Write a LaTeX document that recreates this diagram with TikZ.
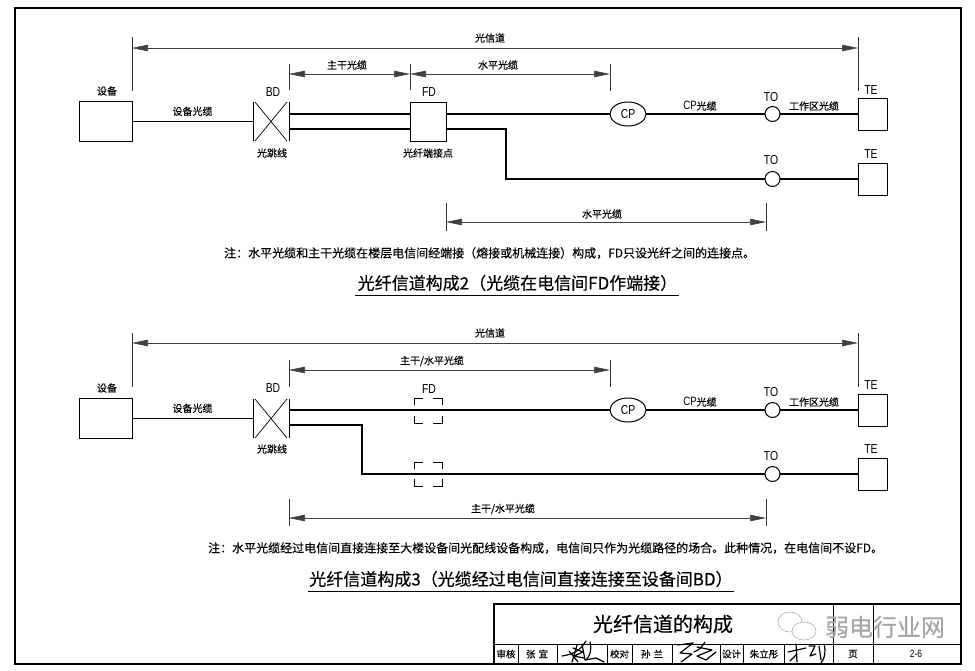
\documentclass[tikz,border=0pt]{standalone}
\usepackage{fontspec}
\setmainfont[FakeBold=0.3]{Noto Sans CJK SC}
\newfontfamily\latinfont[FakeStretch=0.8]{Liberation Sans}
\usetikzlibrary{shapes.geometric, arrows.meta, calc}

\begin{document}
\begin{tikzpicture}[
			x=1pt, y=-1pt,
			box/.style={rectangle, draw=black, line width=1pt, minimum width=36pt, minimum height=39pt, inner sep=0pt, outer sep=0pt},
			terminal/.style={box, minimum width=29pt, minimum height=32pt},
			jumper/.style={rectangle, minimum width=36pt, minimum height=39pt, inner sep=0pt, outer sep=0pt},
			cpnode/.style={ellipse, draw=black, line width=1pt, minimum width=36pt, minimum height=24pt, inner sep=0pt, outer sep=0pt, font=\latinfont\fontsize{13}{13}\selectfont},
			tonode/.style={circle, draw=black, line width=1pt, minimum size=15pt, inner sep=0pt, outer sep=0pt},
			caption/.style={font=\fontsize{10}{10}\selectfont, inner sep=0pt},
			tag/.style={font=\latinfont\fontsize{13}{13}\selectfont, inner sep=0pt},
			note/.style={font=\fontsize{12}{12}\selectfont, inner sep=0pt},
			heading/.style={font=\fontsize{17}{18}\selectfont, inner sep=0pt},
			cell/.style={font=\fontsize{9.5}{10}\selectfont, inner sep=0pt},
			cable/.style={line width=1.2pt},
			thin cable/.style={line width=1.1pt},
			rule/.style={line width=1pt},
			dim/.style={<->, >={Stealth[length=16pt, width=6.5pt, inset=0pt]}, line width=0.6pt, draw=black!75},
			tick/.style={line width=0.6pt, draw=black!80},
			scribble/.style={line width=1.2pt, line cap=round, line join=round}
			]
			\useasboundingbox (0,0) rectangle (975,670);
			
			% frame
			\draw[line width=1.3pt] (15,8) rectangle (961,664);
			
			% configuration 2
			\node[box, minimum width=53pt, minimum height=40pt] (dev1) at (105.5,121.5) {};
			\node[jumper] (bd1) at (271,121.5) {};
			\node[box] (fd1) at (428,121.5) {};
			\node[cpnode] (cp1) at (628,114) {CP};
			\node[tonode] (to1) at (772.5,114) {};
			\node[tonode] (to2) at (772.5,179) {};
			\node[terminal] (te1) at (872.5,114) {};
			\node[terminal] (te2) at (872.5,179) {};
			
			\coordinate (bd1up) at (289,114);
			\coordinate (bd1low) at (289,129);
			\coordinate (fd1upl) at (410,114);
			\coordinate (fd1lowl) at (410,129);
			\coordinate (fd1upr) at (446,114);
			\coordinate (fd1lowr) at (446,129);
			\coordinate (bend1) at (506,129);
			\coordinate (bend2) at (506,179);
			
			\draw[thin cable] (dev1) -- node[caption, above=5pt] {设备光缆} (bd1);
			\draw[rule] (bd1.north west) -- (bd1.south west);
			\draw[rule] (bd1.north east) -- (bd1.south east);
			\draw[line width=0.7pt] ([xshift=2pt]bd1.north west) -- ([xshift=-2pt]bd1.south east);
			\draw[line width=0.7pt] ([xshift=-2pt]bd1.north east) -- ([xshift=2pt]bd1.south west);
			\draw[cable] (bd1up) -- (fd1upl);
			\draw[cable] (bd1low) -- (fd1lowl);
			\draw[cable] (fd1upr) -- (cp1);
			\draw[cable] (fd1lowr) -- (bend1) -- (bend2) -- (to2);
			\draw[thin cable] (cp1) -- (to1);
			\draw[thin cable] (to1) -- (te1);
			\draw[thin cable] (to2) -- (te2);
			
			\coordinate (ch1l) at (132,48);
			\coordinate (ch1r) at (858,48);
			\coordinate (tr1l) at (289,74);
			\coordinate (tr1m) at (410,74);
			\coordinate (tr1r) at (610,74);
			\coordinate (hz1l) at (446,222);
			\coordinate (hz1r) at (766,222);
			
			\draw[dim] (ch1l) -- (ch1r);
			\draw[dim] (tr1l) -- (tr1m);
			\draw[dim] (tr1m) -- (tr1r);
			\draw[dim] (hz1l) -- (hz1r);
			\draw[tick] (132,37) -- (132,91);
			\draw[tick] (858,37) -- (858,91);
			\draw[tick] (289,64) -- (289,90);
			\draw[tick] (410,64) -- (410,90);
			\draw[tick] (610,64) -- (610,91);
			\draw[tick] (446,203) -- (446,231);
			\draw[tick] (766,203) -- (766,231);
			
			\node[caption] (t1a) at (490,38) {光信道};
			\node[caption] (t1b) at (347,65) {主干光缆};
			\node[caption] (t1c) at (498,65) {水平光缆};
			\node[caption] (t1d) at (602,214) {水平光缆};
			\node[caption] (t1e) at (107,91) {设备};
			\node[caption] (t1f) at (272,153) {光跳线};
			\node[caption] (t1g) at (428,153) {光纤端接点};
			\node[caption] (t1h) at (700,106) {{\latinfont\fontsize{12}{12}\selectfont CP}光缆};
			\node[caption] (t1i) at (814,106) {工作区光缆};
			\node[tag] (t1j) at (273,92) {BD};
			\node[tag] (t1k) at (429,92) {FD};
			\node[tag] (t1l) at (771,97) {TO};
			\node[tag] (t1m) at (771,160) {TO};
			\node[tag] (t1n) at (871,90) {TE};
			\node[tag] (t1o) at (871,154) {TE};
			
			\node[note, anchor=west] (note1) at (224,253) {注：水平光缆和主干光缆在楼层电信间经端接（熔接或机械连接）构成，FD只设光纤之间的连接点。};
			\node[heading] (title1) at (517.5,283) {光纤信道构成2（光缆在电信间FD作端接）};
			\draw[rule] (355,295) -- (679,295);
			
			% configuration 3
			\node[box, minimum width=53pt, minimum height=40pt] (dev2) at (105.5,418.5) {};
			\node[jumper] (bd2) at (271,418.5) {};
			\node[cpnode] (cp2) at (628,410) {CP};
			\node[tonode] (to3) at (772.5,410) {};
			\node[tonode] (to4) at (772.5,474) {};
			\node[terminal] (te3) at (872.5,410) {};
			\node[terminal] (te4) at (872.5,474) {};
			
			\coordinate (bd2up) at (289,410);
			\coordinate (bd2low) at (289,425);
			\coordinate (bend3) at (362,425);
			\coordinate (bend4) at (362,474);
			
			\draw[thin cable] (dev2) -- node[caption, above=5pt] {设备光缆} (bd2);
			\draw[rule] (bd2.north west) -- (bd2.south west);
			\draw[rule] (bd2.north east) -- (bd2.south east);
			\draw[line width=0.7pt] ([xshift=2pt]bd2.north west) -- ([xshift=-2pt]bd2.south east);
			\draw[line width=0.7pt] ([xshift=-2pt]bd2.north east) -- ([xshift=2pt]bd2.south west);
			\draw[cable] (bd2up) -- (cp2);
			\draw[cable] (bd2low) -- (bend3) -- (bend4) -- (to4);
			\draw[thin cable] (cp2) -- (to3);
			\draw[thin cable] (to3) -- (te3);
			\draw[thin cable] (to4) -- (te4);
			
			% dashed FD positions
			\draw[rule] (414,405) -- (414,398) -- (423,398);
			\draw[rule] (433,398) -- (442,398) -- (442,405);
			\draw[rule] (414,416) -- (414,423) -- (423,423);
			\draw[rule] (433,423) -- (442,423) -- (442,416);
			\draw[rule] (414,469) -- (414,462) -- (423,462);
			\draw[rule] (433,462) -- (442,462) -- (442,469);
			\draw[rule] (414,479) -- (414,486) -- (423,486);
			\draw[rule] (433,486) -- (442,486) -- (442,479);
			
			\coordinate (ch2l) at (132,343);
			\coordinate (ch2r) at (858,343);
			\coordinate (tr2l) at (289,370);
			\coordinate (tr2r) at (610,370);
			\coordinate (hz2l) at (289,518);
			\coordinate (hz2r) at (766,518);
			
			\draw[dim] (ch2l) -- (ch2r);
			\draw[dim] (tr2l) -- (tr2r);
			\draw[dim] (hz2l) -- (hz2r);
			\draw[tick] (132,333) -- (132,387);
			\draw[tick] (858,333) -- (858,387);
			\draw[tick] (289,360) -- (289,387);
			\draw[tick] (610,360) -- (610,387);
			\draw[tick] (289,499) -- (289,526);
			\draw[tick] (766,499) -- (766,526);
			
			\node[caption] (t2a) at (490,333) {光信道};
			\node[caption] (t2b) at (432,361) {主干/水平光缆};
			\node[caption] (t2c) at (503,509) {主干/水平光缆};
			\node[caption] (t2e) at (107,388) {设备};
			\node[caption] (t2f) at (272,449) {光跳线};
			\node[caption] (t2h) at (700,402) {{\latinfont\fontsize{12}{12}\selectfont CP}光缆};
			\node[caption] (t2i) at (814,402) {工作区光缆};
			\node[tag] (t2j) at (273,388) {BD};
			\node[tag] (t2k) at (429,389) {FD};
			\node[tag] (t2l) at (771,392) {TO};
			\node[tag] (t2m) at (771,456) {TO};
			\node[tag] (t2n) at (871,385) {TE};
			\node[tag] (t2o) at (871,449) {TE};
			
			\node[note, anchor=west] (note2) at (208,548) {注：水平光缆经过电信间直接连接至大楼设备间光配线设备构成，电信间只作为光缆路径的场合。此种情况，在电信间不设FD。};
			\node[heading] (title2) at (521,579) {光纤信道构成3（光缆经过电信间直接连接至设备间BD）};
			\draw[rule] (308,591) -- (734,591);
			
			% title block
			\draw[line width=1.1pt] (494,664) -- (494,604) -- (961,604);
			\draw[line width=0.8pt] (494,644) -- (961,644);
			\draw[line width=0.6pt] (833,604) -- (833,664);
			\draw[line width=0.6pt] (873,604) -- (873,664);
			\draw[line width=0.6pt] (518,644) -- (518,664);
			\draw[line width=0.6pt] (557,644) -- (557,664);
			\draw[line width=0.6pt] (607,644) -- (607,664);
			\draw[line width=0.6pt] (632,644) -- (632,664);
			\draw[line width=0.6pt] (672,644) -- (672,664);
			\draw[line width=0.6pt] (720,644) -- (720,664);
			\draw[line width=0.6pt] (743,644) -- (743,664);
			\draw[line width=0.6pt] (784,644) -- (784,664);
			
			\node[font=\fontsize{20}{20}\selectfont, inner sep=0pt] (block) at (663,624) {光纤信道的构成};
			\node[cell] (c1) at (506,654) {审核};
			\node[cell] (c2) at (537,654) {张\,\,宜};
			\node[cell] (c3) at (619.5,654) {校对};
			\node[cell] (c4) at (652,654) {孙\,\,兰};
			\node[cell] (c5) at (731.5,654) {设计};
			\node[cell] (c6) at (764,654) {朱立彤};
			\node[cell] (c7) at (853,654) {页};
			\node[cell, font=\latinfont\fontsize{10.5}{10}\selectfont] (c8) at (916,654) {2-6};
			
			% signatures
			\draw[scribble] (562,656) .. controls (575,654) and (580,650) .. (586,641);
			\draw[scribble] (569,651) -- (578,662);
			\draw[scribble] (577,645) -- (572,662);
			\draw[scribble] (573,648) -- (583,652) -- (574,656) -- (584,658);
			\draw[scribble] (582,644) -- (585,660) -- (596,658) -- (604,662);
			\draw[scribble] (590,642) .. controls (592,650) and (590,656) .. (586,660);
			\draw[scribble] (678,645) -- (693,643) -- (680,653) -- (692,654) -- (681,662);
			\draw[scribble] (694,652) .. controls (700,650) and (703,645) .. (705,642);
			\draw[scribble] (697,647) -- (712,650) -- (697,656) -- (706,660) -- (716,652);
			\draw[scribble] (788,652) -- (806,648);
			\draw[scribble] (796,644) -- (797,662);
			\draw[scribble] (797,654) -- (790,661);
			\draw[scribble] (809,646) -- (815,646) -- (810,656) -- (816,654);
			\draw[scribble] (819,646) -- (821,660);
			\draw[scribble] (824,644) .. controls (826,652) and (825,658) .. (821,663);
			
			% watermark
			\draw[black!35, line width=0.5pt] (790,622) ellipse (12 and 10);
			\draw[black!35, line width=0.5pt, fill=white] (804,631) ellipse (12 and 9);
			\node[font=\fontsize{24}{24}\selectfont, text=black!35, inner sep=0pt] (mark) at (885,627) {弱电行业网};
		\end{tikzpicture}
\end{document}
